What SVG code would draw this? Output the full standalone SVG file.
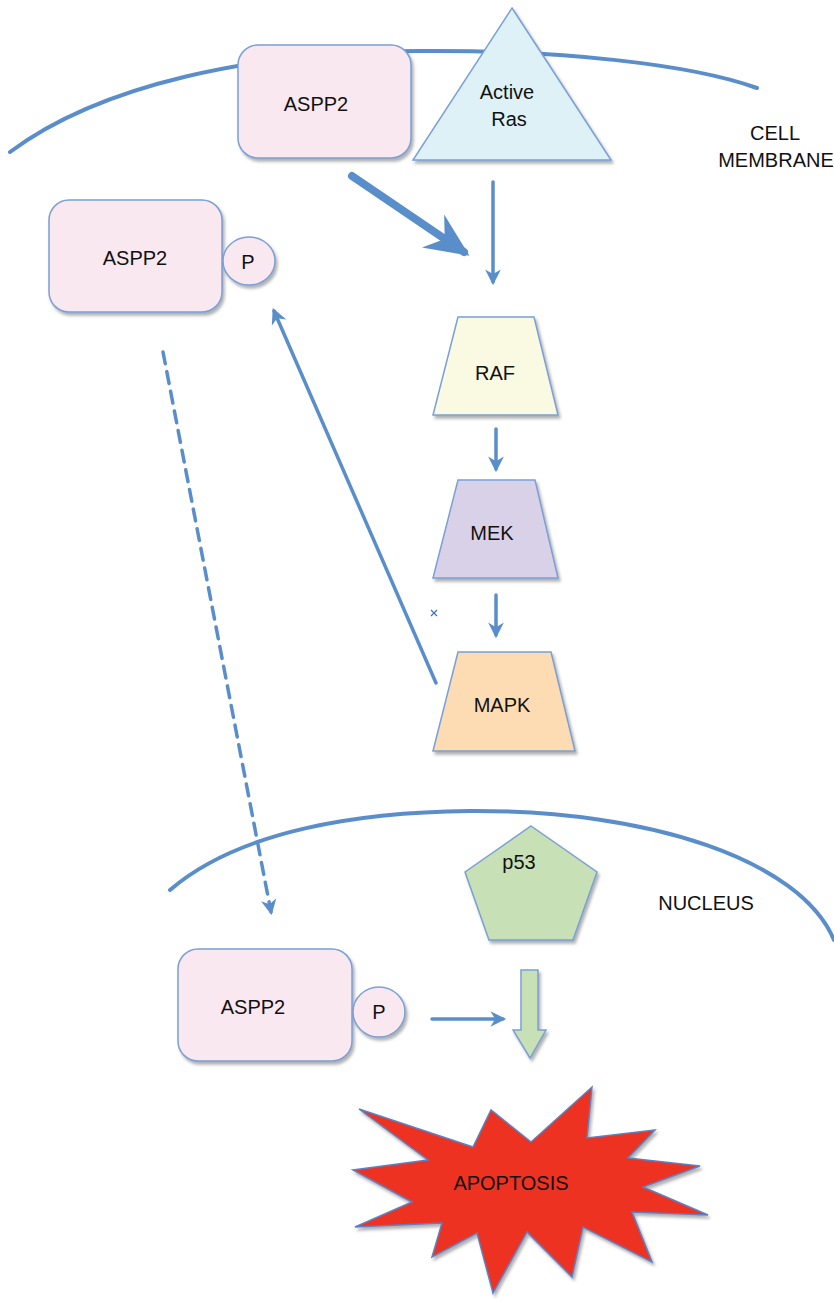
<svg xmlns="http://www.w3.org/2000/svg" width="834" height="1300" viewBox="0 0 834 1300">
<style>
.lbl{font-family:"Liberation Sans",Arial,sans-serif;font-size:20px;fill:#111;text-anchor:middle;dominant-baseline:central}
.shape{stroke:#7aa0d6;stroke-width:1.5;filter:url(#sh)}
.arc{fill:none;stroke:#5a8ecb;stroke-width:4;stroke-linecap:round}
.con{fill:none;stroke:#5a8ecb;stroke-width:3.5;stroke-linecap:round}
</style>
<defs>
<filter id="sh" x="-20%" y="-20%" width="140%" height="140%">
<feDropShadow dx="2" dy="3" stdDeviation="1.5" flood-color="#555" flood-opacity="0.45"/>
</filter>
<marker id="ah" viewBox="0 0 10 10" refX="8" refY="5" markerWidth="4.5" markerHeight="4.5" orient="auto" markerUnits="strokeWidth">
<path d="M0,0 L10,5 L0,10 L3,5 z" fill="#5a8ecb"/>
</marker>
<marker id="ahb" viewBox="0 0 10 10" refX="8.5" refY="5" markerWidth="5.5" markerHeight="5.5" orient="auto" markerUnits="strokeWidth">
<path d="M0,0.5 L10,5 L0,9.5 L3.2,5 z" fill="#5a8ecb"/>
</marker>
</defs>

<g id="membrane">
<path class="arc" d="M10,152 C100,85 250,52 420,51 C560,50 690,64 757,88"/>
<text class="lbl" x="775" y="133">CELL</text>
<text class="lbl" x="776" y="160">MEMBRANE</text>
</g>

<g id="nucleus">
<path class="arc" d="M170,890 C240,830 360,812 470,811 C650,810 800,860 834,940"/>
<text class="lbl" x="706" y="903">NUCLEUS</text>
</g>

<g id="connectors">
<path class="con" d="M352,176 L464,252" style="stroke-width:8" marker-end="url(#ahb)"/>
<path class="con" d="M493,182 L493,282" marker-end="url(#ah)"/>
<path class="con" d="M496,429 L496,469" marker-end="url(#ah)"/>
<path class="con" d="M496,595 L496,635" marker-end="url(#ah)"/>
<path class="con" d="M436,683 L274,311" marker-end="url(#ah)"/>
<path class="con" d="M163,352 L271,912" stroke-dasharray="12 8" marker-end="url(#ah)"/>
<path class="con" d="M432,1019 L503,1019" marker-end="url(#ah)"/>
</g>

<g id="aspp2-top">
<rect class="shape" x="238" y="45" width="173" height="113" rx="20" fill="#f9e8f0"/>
<text class="lbl" x="316" y="104">ASPP2</text>
</g>

<g id="active-ras">
<polygon class="shape" points="512,8 611,160 413,160" fill="#def1f7"/>
<text class="lbl" x="507" y="92">Active</text>
<text class="lbl" x="509" y="119">Ras</text>
</g>

<g id="aspp2-p-left">
<rect class="shape" x="49" y="200" width="173" height="112" rx="20" fill="#f9e8f0"/>
<text class="lbl" x="135" y="258">ASPP2</text>
<ellipse class="shape" cx="249" cy="261" rx="26" ry="24" fill="#f9e8f0"/>
<text class="lbl" x="248" y="262">P</text>
</g>

<g id="raf">
<polygon class="shape" points="458,317 534,317 558,415 433,415" fill="#fafae3"/>
<text class="lbl" x="495" y="373">RAF</text>
</g>

<g id="mek">
<polygon class="shape" points="458,480 535,480 558,578 433,578" fill="#d9d1e7"/>
<text class="lbl" x="492" y="533">MEK</text>
</g>

<g id="mapk">
<polygon class="shape" points="458,652 551,652 575,751 433,751" fill="#fddcb4"/>
<text class="lbl" x="502" y="705">MAPK</text>
</g>

<g id="marker-x">
<path d="M431,610 L437,616 M437,610 L431,616" stroke="#3f6fc0" stroke-width="1.2"/>
</g>

<g id="p53">
<polygon class="shape" points="531,826 597,872 573,940 489,940 465,872" fill="#c7e0b5"/>
<text class="lbl" x="519" y="862">p53</text>
</g>

<g id="aspp2-p-bottom">
<rect class="shape" x="178" y="949" width="174" height="112" rx="20" fill="#f9e8f0"/>
<text class="lbl" x="253" y="1007">ASPP2</text>
<ellipse class="shape" cx="379" cy="1012" rx="26" ry="25" fill="#f9e8f0"/>
<text class="lbl" x="379" y="1012">P</text>
</g>

<g id="block-arrow">
<polygon class="shape" points="521,970 538,970 538,1030 546,1030 530,1058 513,1030 521,1030" fill="#c7e0b5"/>
</g>

<g id="apoptosis">
<polygon class="shape" style="stroke:#5f7fc0" fill="#ee3124" points="359,1109 473,1147 491,1110 531,1142 592,1087 587,1138 655,1130 628,1158 700,1166 643,1187 708,1215 632,1212 652,1262 583,1227 572,1277 527,1232 493,1293 477,1233 432,1257 442,1223 355,1227 412,1202 353,1170 428,1160"/>
<text class="lbl" x="511" y="1183">APOPTOSIS</text>
</g>
</svg>
